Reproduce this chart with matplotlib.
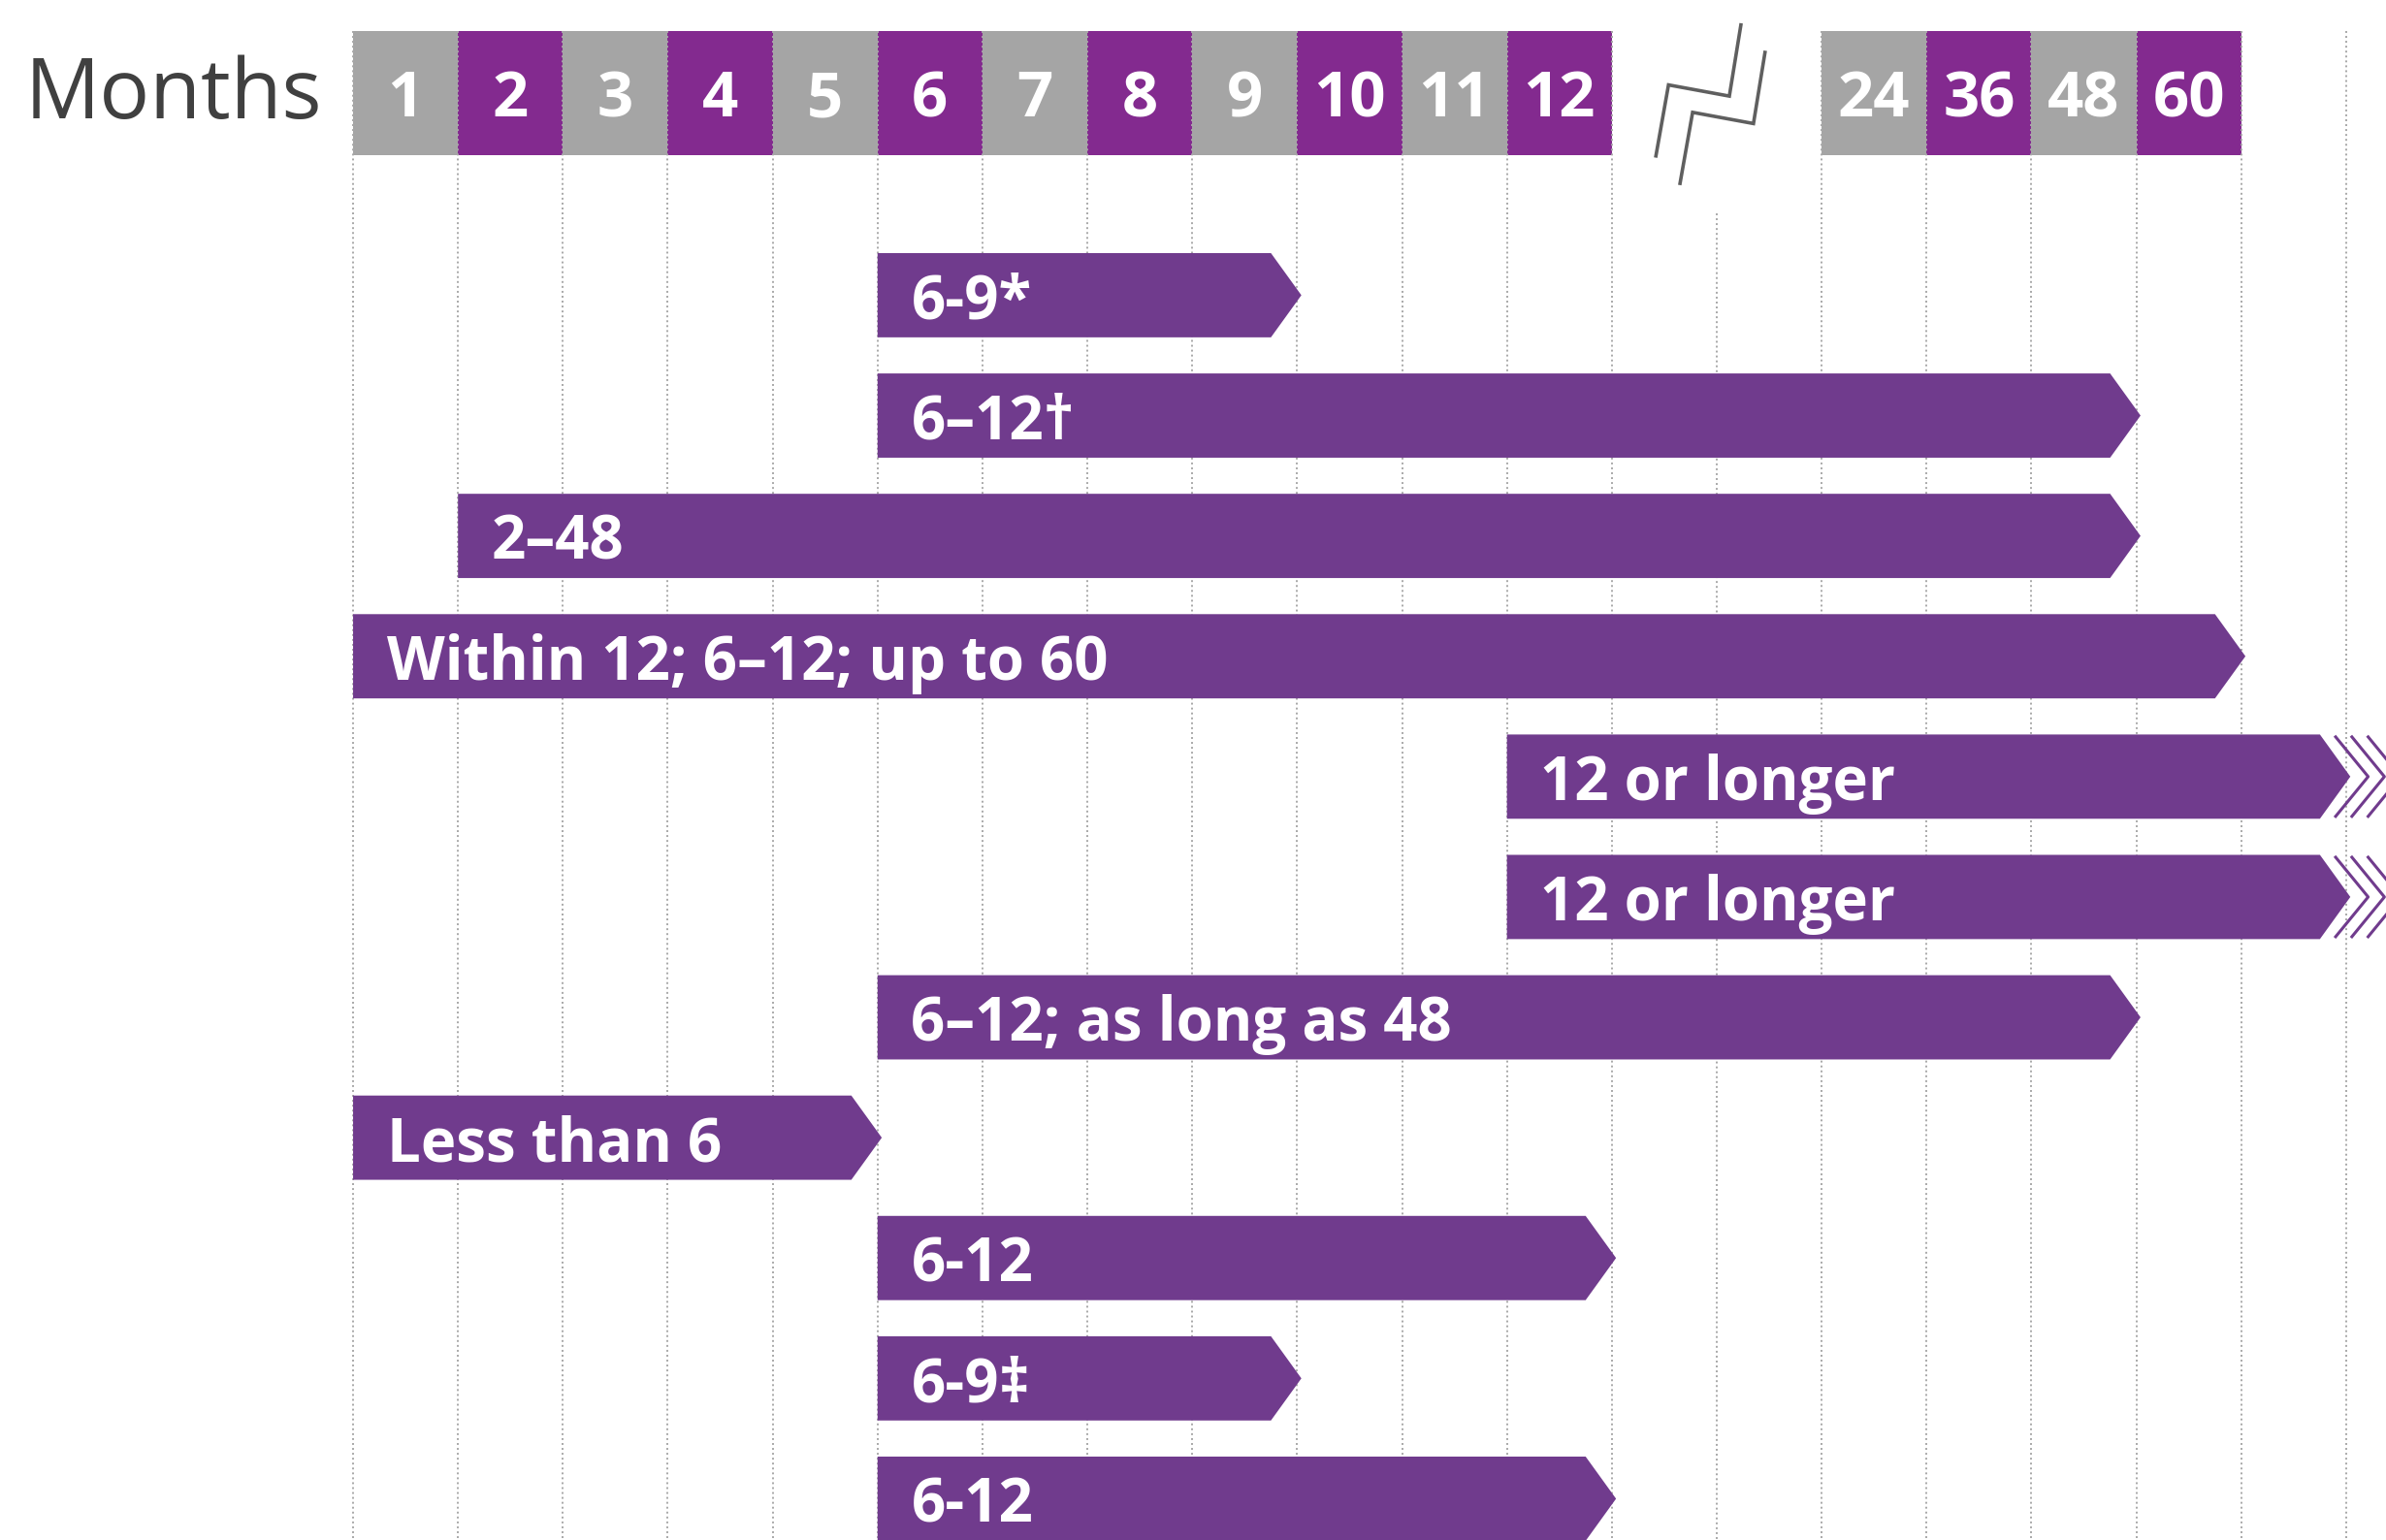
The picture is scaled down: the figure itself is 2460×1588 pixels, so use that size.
import matplotlib.pyplot as plt
from matplotlib.patches import Polygon, Rectangle

plt.rcParams['font.family'] = ['Open Sans', 'DejaVu Sans']

# header months (columns), a break sits between 12 and 24
header_months = [1, 2, 3, 4, 5, 6, 7, 8, 9, 10, 11, 12, 24, 36, 48, 60]
header_labels = [str(m) for m in header_months]

# one arrow per row, start/end in months (None = keeps going)
bar_labels = ['6-9*', '6\u201312\u2020', '2\u201348', 'Within 12; 6\u201312; up to 60',
              '12 or longer', '12 or longer', '6\u201312; as long as 48', 'Less than 6',
              '6-12', '6-9\u2021', '6-12']
bar_start = [6, 6, 2, 1, 12, 12, 6, 1, 6, 6, 6]
bar_end = [9, 48, 48, 60, None, None, 48, 5, 12, 9, 12]

GRAY = '#a5a5a5'
HEAD_PURPLE = '#832a8f'
BAR_PURPLE = '#703b8d'
GRID = '#a8a8a8'
BREAK_COLS = 2
LATE = [24, 36, 48, 60]


def col_left(m):
    if m <= 12:
        return m - 1
    return 12 + BREAK_COLS + LATE.index(m)


n_cols = col_left(60) + 2          # one spare column after 60
head_top, head_bot = -2.197, -1.164
head_mid = (head_top + head_bot) / 2
bar_h = 0.70
tip = 0.29
over = 0.04

fig = plt.figure(figsize=(24.6, 15.88), dpi=100)
ax = fig.add_axes([0, 0, 1, 1])
ax.set_xlim(-3.366, 19.38)
ax.set_ylim(10.343, -2.453)
ax.axis('off')

# header boxes
for i, (m, lab) in enumerate(zip(header_months, header_labels)):
    c = col_left(m)
    ax.add_patch(Rectangle((c, head_top), 1, head_bot - head_top,
                           color=GRAY if i % 2 == 0 else HEAD_PURPLE, lw=0, zorder=1))
    ax.text(c + 0.5, head_mid + 0.065, lab, color='white', fontsize=47,
            fontweight='bold', ha='center', va='center', zorder=4)

ax.text(-3.13, head_mid + 0.03, 'Months', color='#404040', fontsize=62,
        ha='left', va='center')

# dotted gridlines
for c in range(n_cols + 1):
    y0 = head_top
    if c == 13:
        y0 = -0.68
    ax.plot([c, c], [y0, 10.4], color=GRID, lw=1.4,
            linestyle=(0, (1, 1.6)), zorder=2)

# break symbol between 12 and 24
zig = [(-0.58, 0.523), (-0.46, -0.067), (0.12, 0.026), (0.23, -0.565)]
bx = 12 + BREAK_COLS / 2
for dx, dy in [(0, 0), (0.23, 0.228)]:
    ax.plot([bx + p[0] + dx for p in zig], [head_mid + p[1] + dy for p in zig],
            color='#5f5f5f', lw=2.6, solid_joinstyle='miter', zorder=3)

# arrows
for row, (lab, s, e) in enumerate(zip(bar_labels, bar_start, bar_end)):
    x0 = col_left(s)
    x1 = (col_left(e) + 1 if e is not None else n_cols) + over
    top, bot = row - bar_h / 2, row + bar_h / 2
    ax.add_patch(Polygon([(x0, top), (x1 - tip, top), (x1, row),
                          (x1 - tip, bot), (x0, bot)],
                         closed=True, color=BAR_PURPLE, lw=0, zorder=3))
    if e is None:
        for k in range(3):
            cx = x1 - tip + 0.15 + k * 0.155
            ax.plot([cx, cx + tip + 0.02, cx], [top + 0.02, row, bot - 0.02],
                    color=BAR_PURPLE, lw=2.2, zorder=3)
    ax.text(x0 + 0.32, row + 0.06, lab, color='white', fontsize=44.5,
            fontweight='bold', ha='left', va='center', zorder=4)

fig.savefig('out.png', dpi=100)
